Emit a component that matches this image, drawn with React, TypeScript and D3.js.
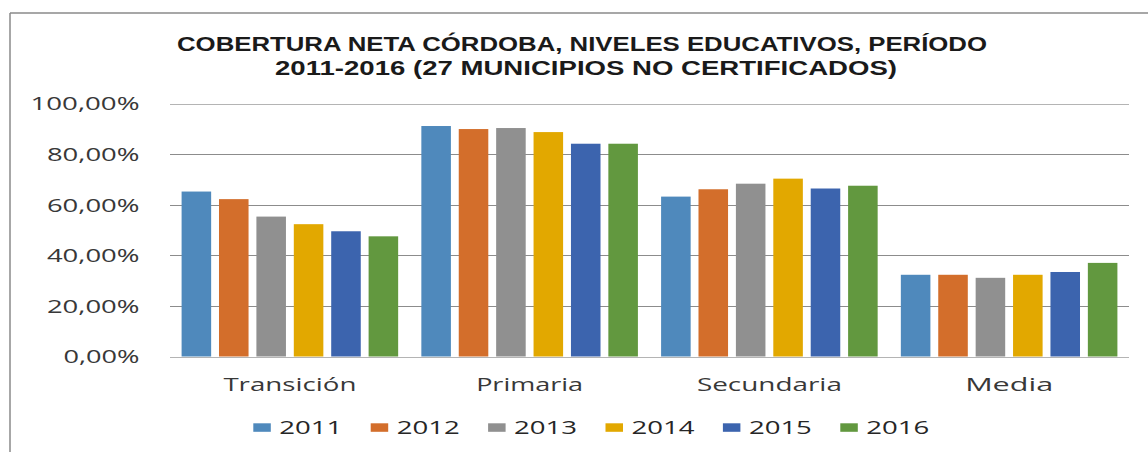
import React from "react";
import * as d3 from "d3";

const categories = ["Transición", "Primaria", "Secundaria", "Media"];
const years = ["2011", "2012", "2013", "2014", "2015", "2016"];
const v2011 = [65.2, 91.1, 63.2, 32.3];
const v2012 = [62.2, 89.9, 66.1, 32.3];
const v2013 = [55.3, 90.3, 68.3, 31.1];
const v2014 = [52.3, 88.7, 70.3, 32.3];
const v2015 = [49.5, 84.1, 66.4, 33.4];
const v2016 = [47.5, 84.1, 67.5, 37.0];
const seriesValues = [v2011, v2012, v2013, v2014, v2015, v2016];
const tickValues = [0, 20, 40, 60, 80, 100];
const tickLabels = ["0,00%", "20,00%", "40,00%", "60,00%", "80,00%", "100,00%"];
const titleLines = [
  "COBERTURA NETA CÓRDOBA, NIVELES EDUCATIVOS, PERÍODO",
  "2011-2016 (27 MUNICIPIOS NO CERTIFICADOS)",
];

const colors = ["#4F89BC", "#D36E2B", "#909090", "#E2A800", "#3C64AE", "#62983F"];
const FONT = "'Open Sans', 'DejaVu Sans', sans-serif";
const TITLE_FONT = "'Liberation Sans', Arial, sans-serif";

export default function App() {
  const W = 1148, H = 452;
  const left = 170, right = 1129, top = 103.5, bottom = 356.5;

  const x0 = d3.scaleBand<string>().domain(categories).range([left, right]).padding(0);
  const x1 = d3
    .scaleBand<string>()
    .domain(years)
    .range([0, x0.bandwidth()])
    .paddingInner(0.21)
    .paddingOuter(0.31);
  const y = d3.scaleLinear().domain([0, 100]).range([bottom, top]);

  const tickTextLen = (s: string) => (s.length === 7 ? 109 : s.length === 6 ? 92.6 : 76);
  const catTextLen = [133, 107, 145, 88];
  const legendStep = 117.4;
  const legendX0 = 253.3;

  return (
    <svg
      width={W}
      height={H}
      style={{ position: "absolute", left: 0, top: 0, background: "#fff" }}
      fontFamily={FONT}
    >
      <rect x={0} y={0} width={W} height={H} fill="#fff" />
      {/* frame */}
      <line x1={10} x2={W} y1={13} y2={13} stroke="#8a8a8a" strokeWidth={1.5} />
      <line x1={10} x2={10} y1={13} y2={H} stroke="#8a8a8a" strokeWidth={1.5} />

      {/* title */}
      <text
        x={582}
        y={50.5}
        textAnchor="middle"
        fontFamily={TITLE_FONT}
        fontSize={20.5}
        fontWeight="bold"
        fill="#1a1a1a"
        textLength={810}
        lengthAdjust="spacingAndGlyphs"
      >
        {titleLines[0]}
      </text>
      <text
        x={586}
        y={75}
        textAnchor="middle"
        fontFamily={TITLE_FONT}
        fontSize={20.5}
        fontWeight="bold"
        fill="#1a1a1a"
        textLength={622}
        lengthAdjust="spacingAndGlyphs"
      >
        {titleLines[1]}
      </text>

      {/* gridlines */}
      {tickValues.map((t, i) => (
        <line
          key={"g" + t}
          x1={left}
          x2={right}
          y1={Math.round(y(t)) + 0.5}
          y2={Math.round(y(t)) + 0.5}
          stroke={i === 0 || i === tickValues.length - 1 ? "#b4b4b4" : "#8c8c8c"}
          strokeWidth={1}
        />
      ))}

      {/* y tick labels */}
      {tickValues.map((t, i) => (
        <text
          key={"t" + t}
          x={139.5}
          y={y(t) + 6.8}
          textAnchor="end"
          fontSize={19}
          fill="#383838"
          textLength={tickTextLen(tickLabels[i])}
          lengthAdjust="spacingAndGlyphs"
        >
          {tickLabels[i]}
        </text>
      ))}

      {/* bars */}
      {categories.map((c, ci) => (
        <g key={c} transform={`translate(${x0(c)},0)`}>
          {years.map((yr, si) => {
            const v = seriesValues[si][ci];
            return (
              <rect
                key={yr}
                x={x1(yr)}
                y={y(v)}
                width={x1.bandwidth()}
                height={y(0) - y(v)}
                fill={colors[si]}
              />
            );
          })}
        </g>
      ))}

      {/* category labels */}
      {categories.map((c, ci) => (
        <text
          key={"c" + c}
          x={(x0(c) as number) + x0.bandwidth() / 2}
          y={391}
          textAnchor="middle"
          fontSize={19}
          fill="#383838"
          textLength={catTextLen[ci]}
          lengthAdjust="spacingAndGlyphs"
        >
          {c}
        </text>
      ))}

      {/* legend */}
      {years.map((yr, i) => {
        const lx = legendX0 + i * legendStep;
        return (
          <g key={"l" + yr}>
            <rect x={lx} y={423.3} width={17.5} height={8.5} fill={colors[i]} />
            <text
              x={lx + 26}
              y={434.3}
              fontSize={19}
              fill="#262626"
              textLength={63}
              lengthAdjust="spacingAndGlyphs"
            >
              {yr}
            </text>
          </g>
        );
      })}
    </svg>
  );
}
